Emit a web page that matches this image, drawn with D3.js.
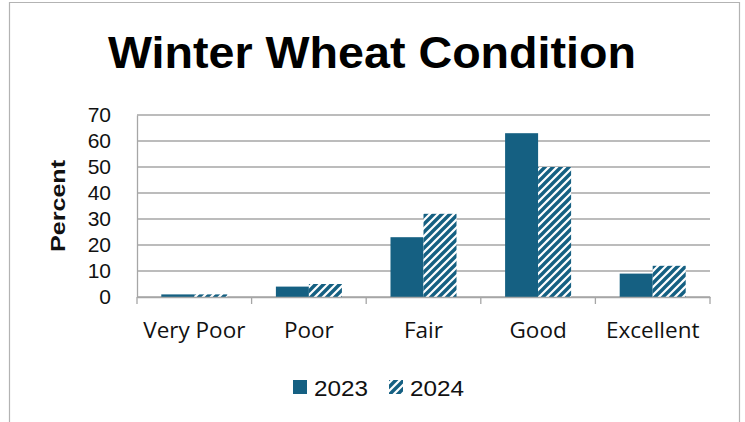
<!DOCTYPE html>
<html><head><meta charset="utf-8">
<script src="https://cdn.jsdelivr.net/npm/d3@7"></script>
<style>body{margin:0;background:#fff}svg{display:block}</style>
</head><body>
<script>
const categories = ["Very Poor","Poor","Fair","Good","Excellent"];
const series2023 = [1,4,23,63,9];
const series2024 = [1,5,32,50,12];
const seriesNames = ["2023","2024"];
const yTicks = [0,10,20,30,40,50,60,70];

const W=745,H=422;
const svg=d3.select("body").append("svg").attr("width",W).attr("height",H);
const color="#156082";
const font="Open Sans, Liberation Sans, sans-serif";
const defs=svg.append("defs");
const pat=defs.append("pattern").attr("id","diag").attr("patternUnits","userSpaceOnUse")
  .attr("width",8).attr("height",8);
pat.append("rect").attr("width",8).attr("height",8).attr("fill","#fff");
pat.append("path").attr("d","M0,8 L8,0 M-2,2 L2,-2 M6,10 L10,6").attr("stroke",color).attr("stroke-width",3.4);

// border
svg.append("path").attr("d","M9.5,"+H+" V2.5 H739.5 V"+H).attr("fill","none").attr("stroke","#b3b3b3").attr("stroke-width",1.2);

const m={l:137,r:710,t:115,b:297};
const x=d3.scaleBand().domain(categories).range([m.l,m.r]).paddingInner(0).paddingOuter(0);
const y=d3.scaleLinear().domain([0,70]).range([m.b,m.t]);
const xs=d3.scaleBand().domain(seriesNames).range([0,x.bandwidth()]).paddingInner(0).paddingOuter(0.736);

// gridlines
svg.append("g").selectAll("line").data(yTicks).join("line")
  .attr("x1",m.l).attr("x2",m.r).attr("y1",d=>y(d)).attr("y2",d=>y(d))
  .attr("stroke","#a6a6a6").attr("stroke-width",1.3);

const data=[series2023,series2024];
seriesNames.forEach((s,si)=>{
  svg.append("g").selectAll("rect").data(categories).join("rect")
    .attr("x",c=>x(c)+xs(s)).attr("width",xs.bandwidth())
    .attr("y",(c,i)=>y(data[si][i])).attr("height",(c,i)=>y(0)-y(data[si][i]))
    .attr("fill",si===0?color:"url(#diag)");
});

// y axis
const ya=svg.append("g").attr("transform",`translate(${m.l},0)`).call(d3.axisLeft(y).tickValues(yTicks).tickSize(0).tickPadding(26));
ya.select(".domain").attr("stroke","#a6a6a6").attr("stroke-width",1.3);
ya.selectAll("text").attr("font-family","Liberation Sans, Arial, sans-serif").attr("font-size",21).attr("fill","#111");

// x axis
const xa=svg.append("g").attr("transform",`translate(0,${m.b})`).call(d3.axisBottom(x).tickSize(0).tickPadding(25));
xa.select(".domain").attr("stroke","#a6a6a6").attr("stroke-width",1.3);
xa.selectAll("text").attr("font-family",font).attr("font-size",22.5).attr("fill","#111");
const bounds=categories.map(c=>x(c)).concat([m.r]);
svg.append("g").selectAll("line").data(bounds).join("line")
  .attr("x1",d=>d).attr("x2",d=>d).attr("y1",m.b).attr("y2",m.b+7).attr("stroke","#a6a6a6").attr("stroke-width",1.3);

// axis title
svg.append("text").attr("transform","translate(65,206) rotate(-90)").attr("text-anchor","middle")
  .attr("font-family","Liberation Sans, Arial, sans-serif").attr("font-weight","bold").attr("font-size",21)
  .attr("textLength",92).attr("lengthAdjust","spacingAndGlyphs").attr("fill","#111").text("Percent");

// title
svg.append("text").attr("x",372).attr("y",68).attr("text-anchor","middle")
  .attr("font-family","Liberation Sans, Arial, sans-serif").attr("font-weight","bold").attr("font-size",44)
  .attr("textLength",528).attr("lengthAdjust","spacingAndGlyphs").attr("fill","#000").text("Winter Wheat Condition");

// legend
const lg=svg.append("g");
const legendX=[293,389];
seriesNames.forEach((s,i)=>{
  lg.append("rect").attr("x",legendX[i]).attr("y",380).attr("width",14).attr("height",14).attr("fill",i===0?color:"url(#diag)");
  lg.append("text").attr("x",legendX[i]+21).attr("y",396).attr("font-family","Liberation Sans, Arial, sans-serif").attr("font-size",22)
    .attr("textLength",54).attr("lengthAdjust","spacingAndGlyphs").attr("fill","#111").text(s);
});
</script>
</body></html>
